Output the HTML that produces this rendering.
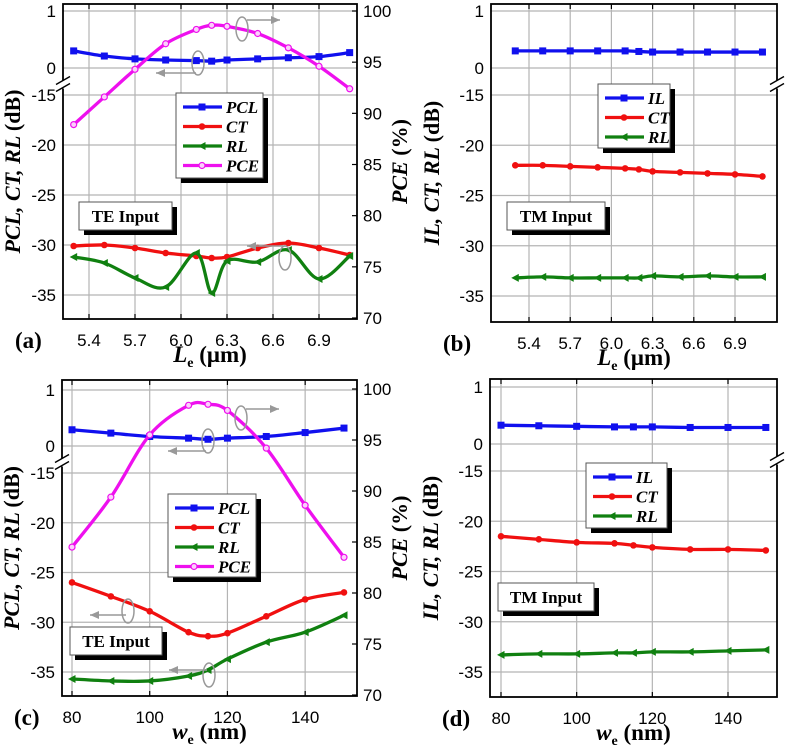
<!DOCTYPE html>
<html><head><meta charset="utf-8">
<style>
html,body{margin:0;padding:0;background:#fff;}
svg{display:block;}
.tk{font-family:"Liberation Sans",sans-serif;font-size:17px;fill:#000;}
.ti{font-family:"Liberation Serif",serif;font-weight:bold;font-style:italic;font-size:22px;fill:#000;}
.tb{font-family:"Liberation Serif",serif;font-weight:bold;font-size:23px;fill:#000;}
.lg{font-family:"Liberation Serif",serif;font-weight:bold;font-style:italic;font-size:17px;fill:#000;}
.bx{font-family:"Liberation Serif",serif;font-weight:bold;font-size:17px;fill:#000;}
</style></head>
<body>
<svg id="fig" width="787" height="750" viewBox="0 0 787 750" xmlns="http://www.w3.org/2000/svg"></svg>
<script>
// ---- data ----
const xA = [5.3,5.5,5.7,5.9,6.1,6.2,6.3,6.5,6.7,6.9,7.1];
const pclA = [0.30,0.21,0.16,0.14,0.13,0.12,0.14,0.16,0.18,0.20,0.27];
const ctA = [-30.1,-30.0,-30.3,-30.8,-31.1,-31.3,-31.2,-30.3,-29.8,-30.3,-31.0];
const rlA = [-31.2,-31.8,-33.3,-34.2,-30.8,-34.8,-31.6,-31.7,-30.5,-33.4,-31.1];
const pceA = [88.9,91.6,94.3,96.8,98.2,98.6,98.5,97.8,96.4,94.6,92.4];

const xB = [5.3,5.5,5.7,5.9,6.1,6.2,6.3,6.5,6.7,6.9,7.1];
const ilB = [0.30,0.30,0.30,0.30,0.30,0.29,0.28,0.28,0.28,0.28,0.28];
const ctB = [-22.0,-22.0,-22.1,-22.2,-22.3,-22.4,-22.6,-22.7,-22.8,-22.9,-23.1];
const rlB = [-33.2,-33.1,-33.2,-33.2,-33.2,-33.2,-33.0,-33.1,-33.0,-33.1,-33.1];

const xC = [80,90,100,110,115,120,130,140,150];
const pclC = [0.29,0.23,0.17,0.14,0.12,0.14,0.17,0.24,0.32];
const ctC = [-26.0,-27.4,-28.9,-31.0,-31.4,-31.1,-29.4,-27.7,-27.0];
const rlC = [-35.7,-35.9,-35.9,-35.4,-34.8,-33.7,-32.0,-31.0,-29.3];
const pceC = [84.5,89.4,95.5,98.4,98.5,97.9,94.2,88.6,83.5];

const xD = [80,90,100,110,115,120,130,140,150];
const ilD = [0.33,0.32,0.31,0.30,0.30,0.30,0.29,0.29,0.29];
const ctD = [-21.5,-21.8,-22.1,-22.2,-22.4,-22.6,-22.8,-22.8,-22.9];
const rlD = [-33.3,-33.2,-33.2,-33.1,-33.1,-33.0,-33.0,-32.9,-32.8];

const xTicksL = [5.4,5.7,6.0,6.3,6.6,6.9];
const xTickLabelsL = ["5.4","5.7","6.0","6.3","6.6","6.9"];
const xTicksW = [80,100,120,140];
const xTickLabelsW = ["80","100","120","140"];
const yTicksUp = [1,0];
const yTicksLow = [-15,-20,-25,-30,-35];
const rTicks = [100,95,90,85,80,75,70];

const NS="http://www.w3.org/2000/svg";
const svg=document.getElementById('fig');
function el(tag,attrs,parent,text){
  const e=document.createElementNS(NS,tag);
  for(const k in attrs)e.setAttribute(k,attrs[k]);
  if(text!==undefined)e.textContent=text;
  (parent||svg).appendChild(e);return e;
}
function smooth(pts){
  let d=`M${pts[0][0]},${pts[0][1]}`;
  for(let i=0;i<pts.length-1;i++){
    const p0=pts[Math.max(0,i-1)],p1=pts[i],p2=pts[i+1],p3=pts[Math.min(pts.length-1,i+2)];
    const c1x=p1[0]+(p2[0]-p0[0])/6,c1y=p1[1]+(p2[1]-p0[1])/6;
    const c2x=p2[0]-(p3[0]-p1[0])/6,c2y=p2[1]-(p3[1]-p1[1])/6;
    d+=` C${c1x},${c1y} ${c2x},${c2y} ${p2[0]},${p2[1]}`;
  }
  return d;
}

function panel(c){
  const g=el('g',{});
  
  
  const X=v=>c.x0p+(v-c.x0v)*(c.x1p-c.x0p)/(c.x1v-c.x0v);
  const Y=v=>v>=-1?c.y0-v*(c.y0-c.y1):c.ym15+(-15-v)*(c.ym35-c.ym15)/20;
  const R=v=>c.r100+(100-v)*(c.r70-c.r100)/30;
  const gg=el('g',{},g);
  
  
  c.xt.forEach(v=>el('line',{x1:X(v),x2:X(v),y1:c.T,y2:c.B,stroke:'#b4b4b4','stroke-width':1.2},gg));
  yTicksUp.concat(yTicksLow).forEach(v=>el('line',{x1:c.L,x2:c.R,y1:Y(v),y2:Y(v),stroke:'#b4b4b4','stroke-width':1.2},gg));
  const fr=el('rect',{x:c.L,y:c.T,width:c.R-c.L,height:c.B-c.T,fill:'none',stroke:'#000','stroke-width':1.8},g);
  
  
  c.xt.forEach(v=>{el('line',{x1:X(v),x2:X(v),y1:c.B,y2:c.B-5,stroke:'#000','stroke-width':1.2},g);el('line',{x1:X(v),x2:X(v),y1:c.T,y2:c.T+5,stroke:'#000','stroke-width':1.2},g);});
  const bx=c.breakRight?c.R:c.L;
  const by=(Y(0)+Y(-15))/2+4;
  el('rect',{x:bx-2,y:by-5,width:4,height:8,fill:'#fff'},g);
  el('line',{x1:bx-7,y1:by-1,x2:bx+7,y2:by-9,stroke:'#000','stroke-width':1.4},g);
  el('line',{x1:bx-7,y1:by+6,x2:bx+7,y2:by-2,stroke:'#000','stroke-width':1.4},g);
  yTicksUp.concat(yTicksLow).forEach(v=>{
    const t=el('text',{x:c.L-7,y:Y(v)+6,'text-anchor':'end',class:'tk'},g,String(v));
    
    
  });
  c.xt.forEach((v,i)=>{
    const t=el('text',{x:X(v),y:c.B+27,'text-anchor':'middle',class:'tk'},g,c.xl[i]);
    
    
  });
  if(c.pce){
    rTicks.forEach(v=>{
      el('line',{x1:c.R,x2:c.R-5,y1:R(v),y2:R(v),stroke:'#000','stroke-width':1.2},g);
      const t=el('text',{x:c.R+6,y:R(v)+6,class:'tk'},g,String(v));
      
      
    });
    const rt=el('text',{transform:`translate(${c.R+50},${(c.T+c.B)/2}) rotate(-90)`,'text-anchor':'middle',class:'ti'},g);
    
    
    el('tspan',{},rt,'PCE ');
    el('tspan',{'font-style':'normal'},rt,'(%)');
  }
  const yt=el('text',{transform:`translate(${c.L-c.ytoff},${(c.T+c.B)/2+10}) rotate(-90)`,'text-anchor':'middle',class:'ti'},g);
  
  
  el('tspan',{},yt,c.ytitle+' ');
  el('tspan',{'font-style':'normal'},yt,'(dB)');
  const xt=el('text',{x:(c.L+c.R)/2,y:c.B+43,'text-anchor':'middle',class:'tb'},g);
  
  
  el('tspan',{'font-style':'italic'},xt,c.xsym);
  el('tspan',{'font-size':'14px',dy:5},xt,'e');
  el('tspan',{dy:-5},xt,' '+c.xunit);
  const pl=el('text',{x:c.L-48,y:c.B+29,class:'tb','font-size':'26px'},g,c.lab);
  
  
  function series(name,xs,ys,col,mk,map){
    const sg=el('g',{},g);
    
    
    const pts=xs.map((x,i)=>[X(x),map(ys[i])]);
    el('path',{d:smooth(pts),fill:'none',stroke:col,'stroke-width':3.3},sg);
    pts.forEach(p=>drawMk(sg,p[0],p[1],col,mk));
  }
  c.series.forEach(s=>series(s[0],c.xs,s[1],s[2],s[3],s[4]==='r'?R:Y));
  (c.ann||[]).forEach(a=>{
    const ag=el('g',{},g);
    
    
    el('ellipse',{cx:a[0],cy:a[1],rx:6,ry:12,fill:'none',stroke:'#999','stroke-width':1.5},ag);
    const dir=a[2];const len=a[3];
    const ex=dir>0?a[0]+len:a[0]-len;
    const yy=a[1]+(a[4]||0);
    el('line',{x1:dir>0?a[0]+5:a[0]-2,y1:yy,x2:ex,y2:yy,stroke:'#999','stroke-width':1.5},ag);
    el('polygon',{points:dir>0?`${ex},${yy} ${ex-9},${yy-4} ${ex-9},${yy+4}`:`${ex},${yy} ${ex+9},${yy-4} ${ex+9},${yy+4}`,fill:'#999'},ag);
  });
  const lg=el('g',{},g);
  
  
  const [lx,ly,lw,lh]=c.leg;
  el('rect',{x:lx+5,y:ly+5,width:lw,height:lh,fill:'#000'},lg);
  el('rect',{x:lx,y:ly,width:lw,height:lh,fill:'#fff',stroke:'#555','stroke-width':1},lg);
  c.series.forEach((s,i)=>{
    const yy=ly+14+i*19.5;
    const e=el('g',{},lg);
    
    
    el('line',{x1:lx+7,x2:lx+46,y1:yy,y2:yy,stroke:s[2],'stroke-width':3.3},e);
    drawMk(e,lx+26,yy,s[2],s[3]);
    el('text',{x:lx+50,y:yy+6,class:'lg'},e,s[0]);
  });
  const ib=el('g',{},g);
  
  
  const [ix,iy,iw,ih]=c.ib;
  el('rect',{x:ix+5,y:iy+5,width:iw,height:ih,fill:'#000'},ib);
  el('rect',{x:ix,y:iy,width:iw,height:ih,fill:'#fff',stroke:'#555','stroke-width':1},ib);
  el('text',{x:ix+iw/2,y:iy+ih/2+6,'text-anchor':'middle',class:'bx'},ib,c.ibt);
}
function drawMk(g,x,y,col,mk){
  if(mk==='sq')el('rect',{x:x-3.5,y:y-3.5,width:7,height:7,fill:col},g);
  else if(mk==='ci')el('circle',{cx:x,cy:y,r:3.3,fill:col},g);
  else if(mk==='tr')el('polygon',{points:`${x-4},${y} ${x+3.5},${y-4} ${x+3.5},${y+4}`,fill:col},g);
  else el('circle',{cx:x,cy:y,r:3,fill:'#fbd0fb',stroke:col,'stroke-width':1.2},g);
}
const BL='#1010ee',RD='#f01010',GR='#108010',MG='#ee10ee';
panel({id:'a',lab:'(a)',L:63,R:357,T:4,B:319,y1:11,y0:68,ym15:95,ym35:295,x0v:5.4,x0p:89,x1v:6.9,x1p:319,r100:11,r70:318,ytoff:43,
  xt:xTicksL,xl:xTickLabelsL,pce:true,ytitle:'PCL, CT, RL',xsym:'L',xunit:'(\u03bcm)',xs:xA,
  series:[['PCL',pclA,BL,'sq','l'],['CT',ctA,RD,'ci','l'],['RL',rlA,GR,'tr','l'],['PCE',pceA,MG,'oc','r']],
  leg:[176,93,87,85],ib:[79,202,93,28],ibt:'TE Input',
  ann:[[198,63,-1,42,10],[242,29,1,38,-9],[285,258,-1,38,-12]]});
panel({id:'b',lab:'(b)',L:491,R:777,T:4,B:322,y1:11,y0:68,ym15:95,ym35:296,x0v:5.4,x0p:529,x1v:6.9,x1p:735,breakRight:true,ytoff:52,
  xt:xTicksL,xl:xTickLabelsL,pce:false,ytitle:'IL, CT, RL',xsym:'L',xunit:'(\u03bcm)',xs:xB,
  series:[['IL',ilB,BL,'sq','l'],['CT',ctB,RD,'ci','l'],['RL',rlB,GR,'tr','l']],
  leg:[598,84,72,64],ib:[507,202,98,28],ibt:'TM Input'});
panel({id:'c',lab:'(c)',L:62,R:357,T:380,B:696,y1:390,y0:446,ym15:473,ym35:672,x0v:80,x0p:72,x1v:150,x1p:344,r100:389,r70:695,ytoff:43,
  xt:xTicksW,xl:xTickLabelsW,pce:true,ytitle:'PCL, CT, RL',xsym:'w',xunit:'(nm)',xs:xC,
  series:[['PCL',pclC,BL,'sq','l'],['CT',ctC,RD,'ci','l'],['RL',rlC,GR,'tr','l'],['PCE',pceC,MG,'oc','r']],
  leg:[168,494,88,83],ib:[70,627,92,28],ibt:'TE Input',
  ann:[[208,441,-1,40,10],[241,418,1,38,-9],[128,611,-1,38,4],[209,675,-1,40,-5]]});
panel({id:'d',lab:'(d)',L:490,R:777,T:379,B:697,y1:387,y0:444,ym15:471,ym35:672,x0v:80,x0p:501,x1v:140,x1p:728,breakRight:true,ytoff:52,
  xt:xTicksW,xl:xTickLabelsW,pce:false,ytitle:'IL, CT, RL',xsym:'w',xunit:'(nm)',xs:xD,
  series:[['IL',ilD,BL,'sq','l'],['CT',ctD,RD,'ci','l'],['RL',rlD,GR,'tr','l']],
  leg:[586,463,81,65],ib:[498,583,96,28],ibt:'TM Input'});
</script>
</body></html>
